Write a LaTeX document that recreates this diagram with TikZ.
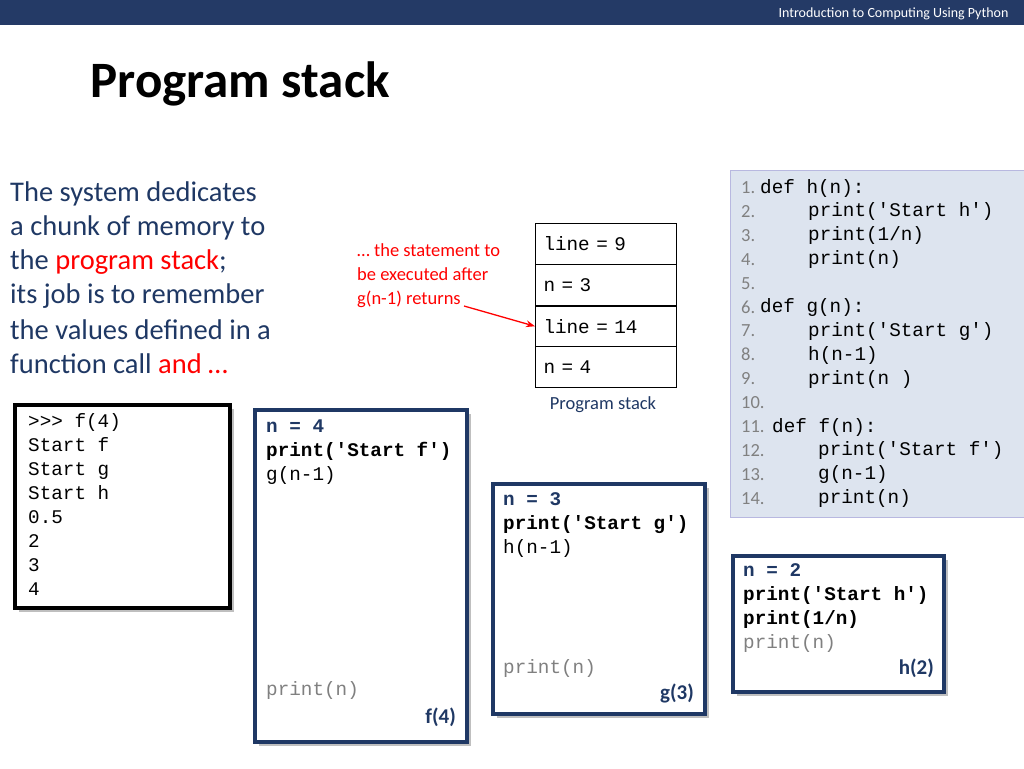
\documentclass[tikz,border=0pt]{standalone}
\usepackage{fontspec}
\setmainfont{Carlito}
\setmonofont{Liberation Mono}
\usetikzlibrary{arrows.meta}
\definecolor{navy}{HTML}{1F3864}
\definecolor{barblue}{HTML}{243A66}
\definecolor{panel}{HTML}{DDE4EF}
\tikzset{>=stealth,
  slide/.style={font=\fontsize{28.5}{32}\selectfont, text=navy, anchor=west, inner sep=0pt},
  code/.style={font=\ttfamily\fontsize{19.3}{22}\selectfont, anchor=west, inner sep=0pt, text height=11pt, text depth=3pt},
  frame/.style={draw=navy, line width=3.5pt, fill=white},
  cell/.style={draw, line width=1pt, minimum width=141pt, minimum height=40.5pt, anchor=north west,
    text width=125pt, font=\ttfamily\fontsize{19.3}{22}\selectfont},
  tag/.style={font=\bfseries\fontsize{21}{24}\selectfont, text=navy, anchor=east, inner sep=0pt}}
\begin{document}
\begin{tikzpicture}[x=1pt,y=-1pt]
      \useasboundingbox (0,0) rectangle (1024,768);
      \fill[barblue] (0,0) rectangle (1024,25);
      \node[anchor=east, text=white, font=\fontsize{14}{16}\selectfont] (head) at (1012,14) {Introduction to Computing Using Python};
      \node[anchor=west, font=\bfseries\fontsize{51}{56}\selectfont, text=black] (title) at (87,84) {Program stack};
      % left column text
      \node[slide] (t1) at (10,194) {The system dedicates};
      \node[slide] (t2) at (10,228) {a chunk of memory to};
      \node[slide] (t3) at (10,262) {the \textcolor{red}{program stack};};
      \node[slide] (t4) at (10,296) {its job is to remember};
      \node[slide] (t5) at (10,330) {the values defined in a};
      \node[slide] (t6) at (10,364) {function call \textcolor{red}{and …}};
      % note on the stack
      \node[anchor=north west, align=left, text=red, inner sep=0pt, font=\fontsize{18.5}{24}\selectfont] (note) at (357,243) {… the statement to\\be executed after\\g(n-1) returns};
      \node[cell] (s1) at (535,223) {line = 9};
      \node[cell] (s2) at (535,264) {n = 3};
      \node[cell] (s3) at (535,305.5) {line = 14};
      \node[cell] (s4) at (535,346) {n = 4};
      \node[text=navy, font=\fontsize{18.5}{20}\selectfont] (cap) at (603,405) {Program stack};
      \coordinate (tip) at (464,306);
      \draw[-{Stealth[length=9pt]}, red, line width=1.3pt] (tip) -- (s3.west);
      % shell window
      \fill[gray!50] (19,409) rectangle (234,612);
      \draw[line width=3.5pt, fill=white] (15,405) rectangle (230,608);
      \foreach \txt [count=\i from 0] in {>>> f(4),Start f,Start g,Start h,0.5,2,3,4}
        \node[code] (sh\i) at (28,423+24*\i) {\txt};
      % frames
      \fill[gray!50] (259,414) rectangle (471,746);
      \draw[frame] (255,410) rectangle (467,742);
      \node[code, text=navy] (f1) at (266,428) {\textbf{n = 4}};
      \node[code] (f2) at (266,452) {\textbf{print('Start f')}};
      \node[code] (f3) at (266,476) {g(n-1)};
      \node[code, text=gray] (f4) at (266,691) {print(n)};
      \node[tag] (fl) at (456,717) {f(4)};
      \fill[gray!50] (497,488) rectangle (709,718);
      \draw[frame] (493,484) rectangle (705,714);
      \node[code, text=navy] (g1) at (503,501) {\textbf{n = 3}};
      \node[code] (g2) at (503,525) {\textbf{print('Start g')}};
      \node[code] (g3) at (503,549) {h(n-1)};
      \node[code, text=gray] (g4) at (503,669) {print(n)};
      \node[tag] (gl) at (694,693) {g(3)};
      \fill[gray!50] (737,560) rectangle (948,696);
      \draw[frame] (733,556) rectangle (944,692);
      \node[code, text=navy] (h1) at (743,572) {\textbf{n = 2}};
      \node[code] (h2) at (743,596) {\textbf{print('Start h')}};
      \node[code] (h3) at (743,620) {\textbf{print(1/n)}};
      \node[code, text=gray] (h4) at (743,644) {print(n)};
      \node[tag] (hl) at (934,668) {h(2)};
      % source listing
      \draw[gray!60!blue!40, fill=panel] (730,170) rectangle (1024,517);
      \foreach \num/\txt/\xx [count=\i from 0] in {1./{def h(n):}/760,2./{print('Start h')}/808,3./{print(1/n)}/808,
          4./{print(n)}/808,5./{}/808,6./{def g(n):}/760,7./{print('Start g')}/808,8./{h(n-1)}/808,9./{print(n )}/808,
          10./{}/808,11./{def f(n):}/772,12./{print('Start f')}/818,13./{g(n-1)}/818,14./{print(n)}/818} {
        \node[anchor=west, inner sep=0pt, text=gray, font=\fontsize{18.5}{20}\selectfont, text height=12pt, text depth=3pt] (ln\i) at (741,189+23.9*\i) {\num};
        \node[code] (src\i) at (\xx,189+23.9*\i) {\txt};
      }
\end{tikzpicture}
\end{document}
